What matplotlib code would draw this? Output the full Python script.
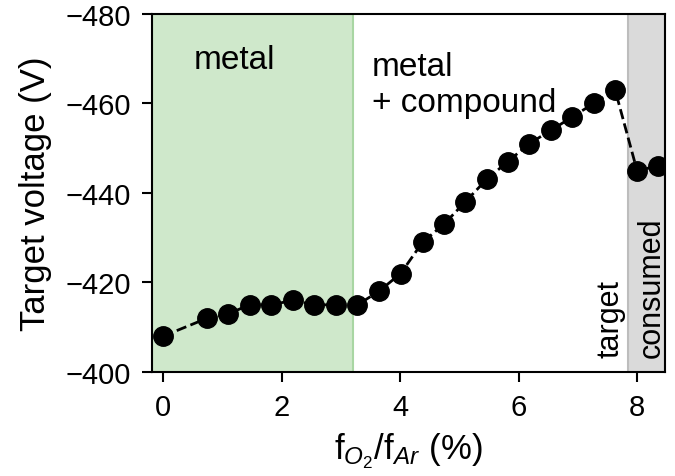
import matplotlib
matplotlib.use("Agg")
from matplotlib import pyplot as plt

plt.rcParams['font.family'] = ['Liberation Sans', 'DejaVu Sans']
plt.rcParams['mathtext.fontset'] = 'custom'
plt.rcParams['mathtext.rm'] = 'Liberation Sans'
plt.rcParams['mathtext.it'] = 'Liberation Sans:italic'

# O2 / Ar flow ratio (%) and target voltage (V)
flow_ratio = [0, 0.74, 1.10, 1.46, 1.82, 2.19, 2.55, 2.91, 3.28, 3.64, 4.01, 4.38,
              4.74, 5.10, 5.46, 5.82, 6.18, 6.55, 6.91, 7.27, 7.63, 8.00, 8.36]
voltage = [-408, -412, -413, -415, -415, -416, -415, -415, -415, -418, -422, -429,
           -433, -438, -443, -447, -451, -454, -457, -460, -463, -445, -446]

# regime boundaries
metal_end = 3.2
consumed_start = 7.85
x_range = (-0.19, 8.47)


def main():
    fig = plt.figure(figsize=(6.75, 4.77), dpi=100)
    ax = fig.add_axes([0.225, 0.218, 0.76, 0.751])

    # shaded regimes
    ax.axvspan(x_range[0], metal_end, facecolor='#cfe8cb', edgecolor='#a9d6a3', lw=1.5)
    ax.axvspan(consumed_start, x_range[1], facecolor='#dadada', edgecolor='#bdbdbd', lw=1.5)

    # measured voltage
    ax.plot(flow_ratio, voltage, 'o--', color='black', markersize=14, lw=2)

    ax.set_xlim(*x_range)
    ax.set_ylim(-400, -480)
    ax.set_xticks([0, 2, 4, 6, 8])
    ax.set_yticks([-480, -460, -440, -420, -400])

    ax.tick_params(labelsize=21, width=1.5, length=7, pad=8)
    for s in ax.spines.values():
        s.set_linewidth(1.5)

    ax.set_xlabel('f$_{O_2}$/f$_{Ar}$ (%)', fontsize=25, labelpad=7)
    ax.set_ylabel('Target voltage (V)', fontsize=25, labelpad=10)

    # regime labels
    ax.text(0.52, -468.0, 'metal', fontsize=24, ha='left', va='baseline')
    ax.text(3.52, -466.3, 'metal', fontsize=24, ha='left', va='baseline')
    ax.text(3.52, -458.4, '+ compound', fontsize=24, ha='left', va='baseline')
    ax.text(7.69, -403.3, 'target', fontsize=22, rotation=90,
            rotation_mode='anchor', ha='left', va='baseline')
    ax.text(8.38, -403.3, 'consumed', fontsize=22, rotation=90,
            rotation_mode='anchor', ha='left', va='baseline')

    fig.savefig('out.png', dpi=100)


if __name__ == "__main__":
    main()
